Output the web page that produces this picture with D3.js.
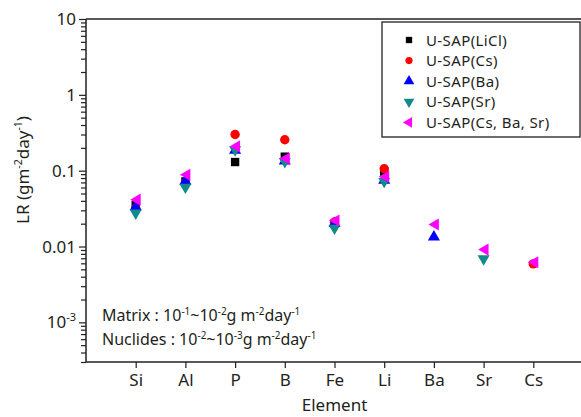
<!DOCTYPE html>
<html>
<head>
<meta charset="utf-8">
<script src="https://cdn.jsdelivr.net/npm/d3@7"></script>
<style>
  body { margin: 0; background: #fff; }
  svg { display: block; font-family: "Noto Sans", sans-serif; }
</style>
</head>
<body>
<div id="chart"></div>
<script>
// element order along the x axis
var elements = ["Si", "Al", "P", "B", "Fe", "Li", "Ba", "Sr", "Cs"];

var liclRate  = [0.035, 0.072, 0.13, 0.153, 0.020, 0.097, null, null, null];
var csRate    = [0.032, 0.069, 0.30, 0.256, 0.021, 0.106, null, null, 0.0059];
var baRate    = [0.0347, 0.076, 0.195, 0.14, 0.021, 0.078, 0.014, null, null];
var srRate    = [0.0264, 0.058, 0.18, 0.126, 0.0167, 0.069, null, 0.0066, null];
var csBaSrRate = [0.0415, 0.0886, 0.209, 0.145, 0.022, 0.083, 0.0195, 0.0091, 0.0062];

var seriesNames = ["U-SAP(LiCl)", "U-SAP(Cs)", "U-SAP(Ba)", "U-SAP(Sr)", "U-SAP(Cs, Ba, Sr)"];
var seriesColors = ["#000000", "#ff0000", "#0000ff", "#108a8a", "#ff00ff"];
var seriesShapes = ["square", "circle", "up", "down", "left"];

// y tick labels: [base, exponent] (exponent null = plain)
var yTickValues = [0.001, 0.01, 0.1, 1, 10];
var yTickLabels = [["10", "-3"], ["0.01", null], ["0.1", null], ["1", null], ["10", null]];

var allSeries = [liclRate, csRate, baRate, srRate, csBaSrRate];

var W = 581, H = 417;
var pLeft = 86, pTop = 19, pRight = 583, pBottom = 362;
var ink = "#231f20";

var svg = d3.select("#chart").append("svg")
  .attr("width", W).attr("height", H);

var x = d3.scaleLinear().domain([0, elements.length + 1]).range([pLeft, pRight]);
var y = d3.scaleLog().domain([3e-4, 10]).range([pBottom, pTop]);

// minor ticks for the log axis
var minor = [];
[1e-4, 1e-3, 1e-2, 1e-1, 1].forEach(function(d) {
  for (var k = 2; k <= 9; k++) {
    var v = d * k;
    if (v >= 3e-4 && v <= 10) minor.push(v);
  }
});

// y axis
svg.append("g")
  .attr("transform", "translate(" + pLeft + ",0)")
  .call(d3.axisLeft(y).tickValues(minor).tickSize(5).tickFormat(""));
svg.append("g")
  .attr("transform", "translate(" + pLeft + ",0)")
  .call(d3.axisLeft(y).tickValues(yTickValues).tickSize(7).tickFormat(""));

svg.selectAll(".domain").remove();
svg.selectAll(".tick line").attr("stroke", ink).attr("stroke-width", 1.2);

// y tick labels
var ylab = svg.append("g").selectAll("text")
  .data(yTickValues)
  .enter().append("text")
  .attr("x", pLeft - 10)
  .attr("y", function(d) { return y(d) + 6; })
  .attr("text-anchor", "end")
  .attr("font-size", 17)
  .attr("fill", ink);
ylab.each(function(d, i) {
  var t = d3.select(this), lab = yTickLabels[i];
  t.append("tspan").text(lab[0]);
  if (lab[1]) t.append("tspan").attr("dy", -7).attr("font-size", 11).text(lab[1]);
});

// x axis
var xAxis = svg.append("g")
  .attr("transform", "translate(0," + pBottom + ")")
  .call(d3.axisBottom(x)
    .tickValues(d3.range(1, elements.length + 1))
    .tickSize(6)
    .tickPadding(6)
    .tickFormat(function(d) { return elements[d - 1]; }));
xAxis.select(".domain").remove();
xAxis.selectAll(".tick line").attr("stroke", ink).attr("stroke-width", 1.2);
xAxis.selectAll(".tick text")
  .attr("font-size", 17).attr("fill", ink)
  .attr("font-family", "Noto Sans, sans-serif");

// frame: left, bottom and top lines
svg.append("line").attr("x1", pLeft).attr("x2", pLeft).attr("y1", pTop).attr("y2", pBottom)
  .attr("stroke", ink).attr("stroke-width", 1.5);
svg.append("line").attr("x1", pLeft).attr("x2", W).attr("y1", pBottom).attr("y2", pBottom)
  .attr("stroke", ink).attr("stroke-width", 1.5);
svg.append("line").attr("x1", pLeft).attr("x2", W).attr("y1", pTop).attr("y2", pTop)
  .attr("stroke", ink).attr("stroke-width", 1.5);

// marker path for a shape
function markerPath(shape, s) {
  if (shape == "square") return d3.symbol(d3.symbolSquare, s)();
  if (shape == "circle") return d3.symbol(d3.symbolCircle, s)();
  return d3.symbol(d3.symbolTriangle, s * 0.9)();
}
function markerRotate(shape) {
  if (shape == "down") return 180;
  if (shape == "left") return -90;
  return 0;
}

// data points
allSeries.forEach(function(vals, si) {
  var pts = vals.map(function(v, i) { return {i: i + 1, v: v}; })
    .filter(function(d) { return d.v != null; });
  svg.append("g").selectAll("path")
    .data(pts)
    .enter().append("path")
    .attr("d", markerPath(seriesShapes[si], 70))
    .attr("transform", function(d) {
      var dy = seriesShapes[si] == "up" ? 1.5 : (seriesShapes[si] == "down" ? -1.5 : 0);
      var dx = seriesShapes[si] == "left" ? 1.5 : 0;
      return "translate(" + (x(d.i) + dx) + "," + (y(d.v) + dy) + ") rotate(" + markerRotate(seriesShapes[si]) + ")";
    })
    .attr("fill", seriesColors[si]);
});

// legend
var lg = svg.append("g");
lg.append("rect")
  .attr("x", 382).attr("y", 22).attr("width", 198).attr("height", 115)
  .attr("fill", "#fff").attr("stroke", ink).attr("stroke-width", 1.3);
seriesNames.forEach(function(name, i) {
  var cy = 40 + i * 20.6;
  var sz = (seriesShapes[i] == "square" || seriesShapes[i] == "circle") ? 40 : 55;
  lg.append("path")
    .attr("d", markerPath(seriesShapes[i], sz))
    .attr("transform", "translate(409," + cy + ") rotate(" + markerRotate(seriesShapes[i]) + ")")
    .attr("fill", seriesColors[i]);
  lg.append("text")
    .attr("x", 426).attr("y", cy + 5.5)
    .attr("font-size", 15).attr("fill", ink)
    .attr("letter-spacing", 0.4)
    .text(name);
});

// text with superscripts: parts = [[text, isSup], ...]
function richText(g, px, py, size, parts) {
  var t = g.append("text").attr("x", px).attr("y", py)
    .attr("font-size", size).attr("fill", ink);
  var up = false;
  parts.forEach(function(p) {
    var sp = t.append("tspan").text(p[0]);
    if (p[1] && !up) { sp.attr("dy", -size * 0.4).attr("font-size", size * 0.62); up = true; }
    else if (p[1]) { sp.attr("font-size", size * 0.62); }
    else if (!p[1] && up) { sp.attr("dy", size * 0.4); up = false; }
  });
  return t;
}

richText(svg, 102, 321, 16, [["Matrix : 10", 0], ["-1", 1], ["~10", 0], ["-2", 1], ["g m", 0], ["-2", 1], ["day", 0], ["-1", 1]]);
richText(svg, 102, 345, 16, [["Nuclides : 10", 0], ["-2", 1], ["~10", 0], ["-3", 1], ["g m", 0], ["-2", 1], ["day", 0], ["-1", 1]]);

// axis titles
svg.append("text")
  .attr("x", (pLeft + pRight) / 2).attr("y", 411)
  .attr("text-anchor", "middle").attr("font-size", 17).attr("fill", ink)
  .text("Element");

var yt = richText(svg, 0, 0, 17, [["LR (gm", 0], ["-2", 1], ["day", 0], ["-1", 1], [")", 0]]);
yt.attr("text-anchor", "middle")
  .attr("transform", "translate(29,170) rotate(-90)");
</script>
</body>
</html>
